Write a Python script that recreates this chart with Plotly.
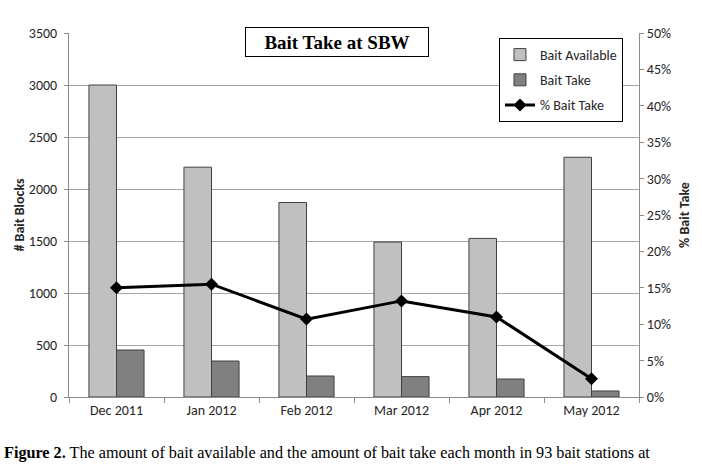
import plotly.graph_objects as go

months = ["Dec 2011", "Jan 2012", "Feb 2012", "Mar 2012", "Apr 2012", "May 2012"]
bait_available = [3000, 2210, 1870, 1490, 1525, 2305]
bait_take = [452, 346, 202, 196, 173, 58]
pct_take = [0.150, 0.155, 0.107, 0.132, 0.110, 0.025]

W, H = 702, 474
L, R, T, B = 69, 643, 33, 397


def px(x):
    return (x - L) / (R - L)


def py(y):
    return (B - y) / (B - T)


FONT = "Carlito, Lato, sans-serif"
tick_font = dict(family=FONT, size=14, color="#262626")
axis_col = "#8c8c8c"

fig = go.Figure()
fig.add_trace(go.Bar(
    x=months, y=bait_available, name="Bait Available", legendgroup="a",
    marker=dict(color="#c0c0c0", line=dict(color="#404040", width=1)),
))
fig.add_trace(go.Bar(
    x=months, y=bait_take, name="Bait Take", legendgroup="b",
    marker=dict(color="#808080", line=dict(color="#404040", width=1)),
))
fig.add_trace(go.Scatter(
    x=months, y=pct_take, name="% Bait Take", yaxis="y2", legendgroup="c",
    mode="lines+markers",
    line=dict(color="black", width=3),
    marker=dict(symbol="diamond", size=10, color="black"),
))

fig.update_layout(
    width=W, height=H,
    margin=dict(l=L, r=W - R, t=T, b=H - B),
    paper_bgcolor="white", plot_bgcolor="white",
    barmode="group", bargap=0.42, bargroupgap=0,
    showlegend=True,
    legend=dict(
        x=px(502), y=py(38), xanchor="left", yanchor="top",
        bgcolor="white", bordercolor="black", borderwidth=1,
        font=dict(family=FONT, size=14, color="#262626"),
        tracegroupgap=4, traceorder="grouped",
    ),
    xaxis=dict(
        type="category", tickson="boundaries", ticks="outside", ticklen=5,
        tickcolor=axis_col, showline=True, linecolor=axis_col, linewidth=1,
        showgrid=False, tickfont=tick_font,
    ),
    yaxis=dict(
        range=[0, 3500], dtick=500, ticks="outside", ticklen=4,
        tickcolor=axis_col, showline=True, linecolor=axis_col,
        showgrid=True, gridcolor="#a6a6a6", gridwidth=1, zeroline=False,
        tickfont=tick_font, ticklabelstandoff=4,
        title=dict(text="<b># Bait Blocks</b>", font=dict(family=FONT, size=14, color="#262626"), standoff=0),
    ),
    yaxis2=dict(
        range=[0, 0.5], dtick=0.05, tickformat=".0%", overlaying="y", side="right",
        ticks="outside", ticklen=4, tickcolor=axis_col, showline=True,
        linecolor=axis_col, showgrid=False, zeroline=False, tickfont=tick_font,
        title=dict(text="<b>% Bait Take</b>", font=dict(family=FONT, size=14, color="#262626"), standoff=9),
    ),
)

# Chart title box
fig.add_annotation(
    x=px(339), y=py(42), xref="paper", yref="paper",
    text="<b>Bait Take at SBW</b>", showarrow=False,
    font=dict(family="Liberation Serif, Times New Roman, serif", size=19, color="black"),
    width=180, height=26, borderpad=1,
    bordercolor="black", borderwidth=1, bgcolor="white",
    xanchor="center", yanchor="middle",
)

# Figure caption
fig.add_annotation(
    x=px(2), y=py(453), xref="paper", yref="paper",
    text="<b>Figure 2.</b> The amount of bait available and the amount of bait take each month in 93 bait stations at",
    showarrow=False, xanchor="left", yanchor="middle", align="left",
    font=dict(family="Liberation Serif, Times New Roman, serif", size=16.2, color="black"),
)

fig.write_html("out.html")
